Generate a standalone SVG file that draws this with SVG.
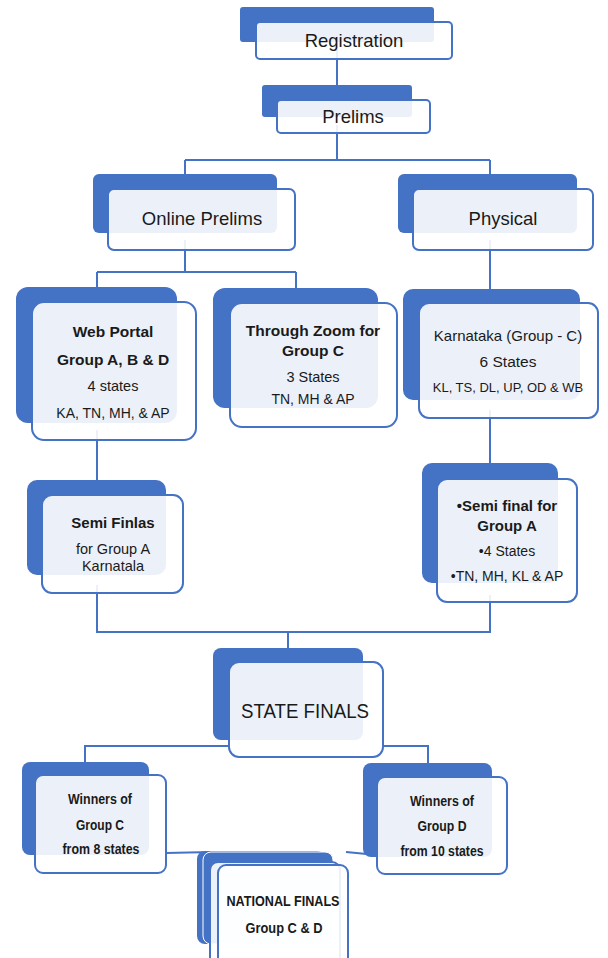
<svg xmlns="http://www.w3.org/2000/svg" width="608" height="958" viewBox="0 0 608 958">
<style>
.bk{fill:#4472C4}
.fr{fill:#ffffff;fill-opacity:0.9;stroke:#4472C4;stroke-width:2}
.cn{fill:none;stroke:#4472C4;stroke-width:2}
text{font-family:"Liberation Sans",Arial,sans-serif;fill:#1a1a1a;text-anchor:middle}
.b{font-weight:bold}
</style>
<rect width="608" height="958" fill="#ffffff"/>
<g id="connectors">
<path class="cn" d="M337,45 V100"/>
<path class="cn" d="M337,125 V160 M185,160 H490 M185,160 V200 M490,160 V200"/>
<path class="cn" d="M185,240 V272 M97,272 H296 M97,272 V302 M296,272 V303"/>
<path class="cn" d="M490,240 V303"/>
<path class="cn" d="M97,430 V495"/>
<path class="cn" d="M490,410 V479"/>
<path class="cn" d="M97,585 V632 H490 V595 M288,632 V662"/>
<path class="cn" d="M85,775 V746 H229 M383,746 H428 V777"/>
<path class="cn" d="M166,853 L212,852 M346,852 L377,855"/>
</g>
<g id="registration">
<rect class="bk" x="240" y="7" width="194" height="35" rx="3"/>
<rect class="fr" x="256" y="22" width="196" height="37" rx="4"/>
<text x="354" y="47" font-size="18.5">Registration</text>
</g>
<g id="prelims">
<rect class="bk" x="262" y="85" width="150" height="32" rx="3"/>
<rect class="fr" x="277" y="100" width="153" height="33" rx="4"/>
<text x="353" y="123" font-size="18.5">Prelims</text>
</g>
<g id="online-prelims">
<rect class="bk" x="93" y="174" width="184" height="59" rx="6"/>
<rect class="fr" x="108" y="189" width="187" height="61" rx="6"/>
<text x="202" y="225" font-size="18.5">Online Prelims</text>
</g>
<g id="physical">
<rect class="bk" x="398" y="174" width="179" height="59" rx="6"/>
<rect class="fr" x="413" y="189" width="180" height="61" rx="6"/>
<text x="503" y="225" font-size="18.5">Physical</text>
</g>
<g id="web-portal">
<rect class="bk" x="16" y="287" width="161" height="136" rx="12"/>
<rect class="fr" x="32" y="302" width="164" height="138" rx="12"/>
<text x="113" y="337" font-size="15.5" class="b">Web Portal</text>
<text x="113" y="365" font-size="15.5" class="b">Group A, B &amp; D</text>
<text x="113" y="391" font-size="14.5">4 states</text>
<text x="113" y="418" font-size="14">KA, TN, MH, &amp; AP</text>
</g>
<g id="through-zoom">
<rect class="bk" x="213" y="288" width="165" height="120" rx="12"/>
<rect class="fr" x="230" y="303" width="167" height="124" rx="12"/>
<text x="313" y="336" font-size="15.5" class="b">Through Zoom for</text>
<text x="313" y="356" font-size="15.5" class="b">Group C</text>
<text x="313" y="382" font-size="14.5">3 States</text>
<text x="313" y="404" font-size="14">TN, MH &amp; AP</text>
</g>
<g id="karnataka">
<rect class="bk" x="403" y="289" width="177" height="111" rx="10"/>
<rect class="fr" x="419" y="303" width="179" height="115" rx="10"/>
<text x="508" y="341" font-size="15">Karnataka (Group - C)</text>
<text x="508" y="367" font-size="15.5">6 States</text>
<text x="508" y="392" font-size="13">KL, TS, DL, UP, OD &amp; WB</text>
</g>
<g id="semi-finlas">
<rect class="bk" x="27" y="480" width="139" height="95" rx="10"/>
<rect class="fr" x="42" y="495" width="141" height="98" rx="10"/>
<text x="113" y="528" font-size="15" class="b">Semi Finlas</text>
<text x="113" y="554" font-size="14.5">for Group A</text>
<text x="113" y="571" font-size="14.5">Karnatala</text>
</g>
<g id="semi-final-a">
<rect class="bk" x="422" y="463" width="136" height="120" rx="10"/>
<rect class="fr" x="437" y="479" width="140" height="123" rx="10"/>
<text x="507" y="511" font-size="15" class="b">•Semi final for</text>
<text x="507" y="531" font-size="15" class="b">Group A</text>
<text x="507" y="556" font-size="14">•4 States</text>
<text x="507" y="581" font-size="14">•TN, MH, KL &amp; AP</text>
</g>
<g id="state-finals">
<rect class="bk" x="213" y="648" width="150" height="92" rx="8"/>
<rect class="fr" x="229" y="662" width="154" height="95" rx="10"/>
<text x="305" y="718" font-size="19.5" textLength="128" lengthAdjust="spacingAndGlyphs">STATE FINALS</text>
</g>
<g id="winners-c">
<rect class="bk" x="22" y="762" width="127" height="93" rx="8"/>
<rect class="fr" x="35" y="775" width="131" height="98" rx="8"/>
<text x="100" y="804" font-size="15" class="b" textLength="64" lengthAdjust="spacingAndGlyphs">Winners of</text>
<text x="100" y="830" font-size="15" class="b" textLength="48" lengthAdjust="spacingAndGlyphs">Group C</text>
<text x="101" y="854" font-size="15" class="b" textLength="77" lengthAdjust="spacingAndGlyphs">from 8 states</text>
</g>
<g id="winners-d">
<rect class="bk" x="363" y="763" width="129" height="94" rx="8"/>
<rect class="fr" x="377" y="777" width="130" height="97" rx="8"/>
<text x="442" y="806" font-size="15" class="b" textLength="64" lengthAdjust="spacingAndGlyphs">Winners of</text>
<text x="442" y="831" font-size="15" class="b" textLength="49" lengthAdjust="spacingAndGlyphs">Group D</text>
<text x="442" y="856" font-size="15" class="b" textLength="83" lengthAdjust="spacingAndGlyphs">from 10 states</text>
</g>
<g id="national-finals">
<rect class="bk" x="197" y="851" width="128" height="93" rx="8"/>
<rect x="203" y="852" width="130" height="92" rx="8" fill="#4472C4" stroke="#ffffff" stroke-width="1"/>
<rect class="fr" x="210" y="862" width="130" height="104" rx="8"/>
<rect class="fr" x="218" y="865" width="130" height="104" rx="8"/>
<text x="283" y="906" font-size="15" class="b" textLength="113" lengthAdjust="spacingAndGlyphs">NATIONAL FINALS</text>
<text x="284" y="933" font-size="15" class="b" textLength="77" lengthAdjust="spacingAndGlyphs">Group C &amp; D</text>
</g>
</svg>
